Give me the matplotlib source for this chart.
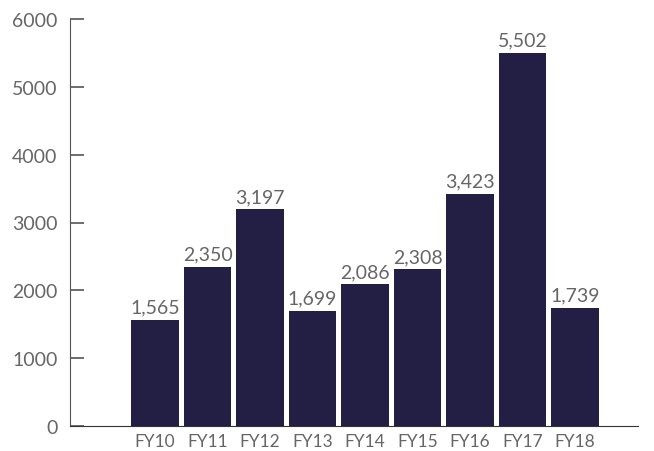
import matplotlib.pyplot as plt
import numpy as np

# Datos del gráfico
categorias = ['FY10', 'FY11', 'FY12', 'FY13', 'FY14', 'FY15', 'FY16', 'FY17', 'FY18']
valores = [1565, 2350, 3197, 1699, 2086, 2308, 3423, 5502, 1739]
marcas_y = [0, 1000, 2000, 3000, 4000, 5000, 6000]

color_barra = '#221e44'
color_texto = '#666666'

plt.rcParams['font.family'] = ['Lato', 'DejaVu Sans']

fig = plt.figure(figsize=(6.54, 4.52), dpi=100)
ax = fig.add_axes([70 / 654, 1 - 427 / 452, (638 - 70) / 654, (427 - 20) / 452])

x = np.arange(len(categorias))
barras = ax.bar(x, valores, width=0.91, color=color_barra)

# Etiquetas de valor sobre cada barra
for xi, v in zip(x, valores):
    ax.annotate(f'{v:,}', (xi, v), xytext=(0, 3), textcoords='offset points',
                ha='center', va='bottom', fontsize=14, color=color_texto)

ax.set_xlim(-1.62, 9.2)
ax.set_ylim(0, 6000)
ax.set_xticks(x)
ax.set_xticklabels(categorias, fontsize=12.5, color=color_texto)
ax.set_yticks(marcas_y)
ax.set_yticklabels([str(m) for m in marcas_y], fontsize=14, color=color_texto)

ax.spines['top'].set_visible(False)
ax.spines['right'].set_visible(False)
ax.spines['left'].set_color('#555555')
ax.spines['bottom'].set_color('#333333')

ax.tick_params(axis='y', direction='in', length=10, width=1.2, colors='#555555',
               labelcolor=color_texto, pad=9)
ax.tick_params(axis='x', length=0, pad=5)

fig.savefig('out.png', dpi=100)
